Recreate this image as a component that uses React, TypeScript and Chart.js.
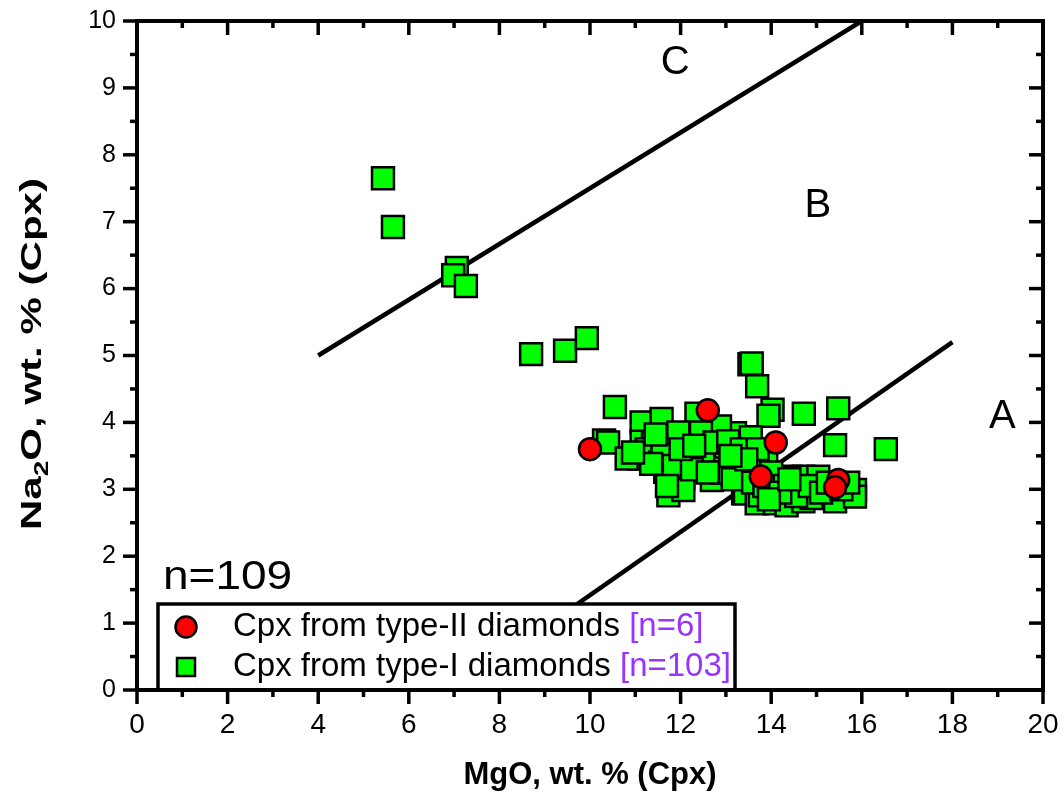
import React, { useEffect, useRef } from 'react';
import { Chart, registerables } from 'chart.js';

Chart.register(...registerables);

// ---- Data ----
const MGO_TYPE2 = [10.0, 12.6, 14.1, 13.77, 15.48, 15.41];
const NA2O_TYPE2 = [3.6, 4.18, 3.7, 3.19, 3.14, 3.03];

const MGO_TYPE1 = [
  5.43, 5.65, 7.06, 6.98, 7.26, 8.7, 9.45, 9.93, 13.52, 13.57,
  13.69, 14.03, 13.94, 14.72, 15.48, 15.41, 16.53, 10.55, 10.31, 10.4,
  11.14, 11.58, 11.14, 11.77, 11.07, 11.47, 10.81, 11.73, 11.39, 11.66,
  12.35, 12.83, 13.2, 11.8, 12.13, 12.61, 12.87, 13.09, 12.69, 12.06,
  12.06, 13.38, 11.77, 12.38, 13.55, 13.0, 13.24, 13.89, 13.53, 13.42,
  13.68, 13.75, 14.16, 14.08, 14.34, 14.45, 14.71, 15.04, 14.67, 14.71,
  14.89, 15.41, 15.85, 15.85, 12.87, 11.25, 11.55, 11.9, 12.2, 12.45,
  12.5, 12.75, 13.05, 13.35, 13.7, 11.6, 11.35, 10.95, 11.85, 12.25,
  12.9, 13.15, 13.6, 13.85, 14.0, 14.3, 14.55, 14.85, 15.1, 15.55,
  15.25, 14.2, 13.95, 12.6, 11.95, 12.0, 13.45, 12.3, 13.1, 11.45,
  15.7, 14.4, 11.7,
];
const NA2O_TYPE1 = [
  7.65, 6.92, 6.31, 6.2, 6.04, 5.02, 5.07, 5.26, 4.87, 4.88,
  4.54, 4.19, 4.1, 4.13, 4.21, 3.66, 3.6, 4.23, 3.73, 3.7,
  4.0, 4.05, 3.71, 3.75, 3.46, 3.5, 3.46, 2.91, 3.69, 3.26,
  4.13, 3.91, 3.84, 3.76, 3.79, 3.56, 3.44, 3.34, 3.14, 3.16,
  2.99, 2.94, 3.49, 3.74, 3.78, 3.64, 3.51, 3.44, 3.31, 2.94,
  2.79, 2.91, 3.09, 2.79, 2.76, 3.19, 3.19, 3.19, 3.01, 2.82,
  2.87, 2.82, 2.99, 2.89, 3.94, 3.6, 3.4, 3.62, 3.55, 3.85,
  3.4, 3.7, 3.72, 3.6, 3.6, 3.55, 3.38, 3.55, 3.35, 3.3,
  3.25, 3.15, 3.1, 3.05, 3.25, 3.05, 2.9, 3.05, 2.95, 3.0,
  3.1, 2.95, 2.85, 3.25, 3.85, 3.6, 3.45, 3.65, 3.5, 3.82,
  3.1, 3.15, 3.05,
];

// Field boundary lines
const LINE_BC_X = [4, 16];
const LINE_BC_Y = [5, 10];
const LINE_AB_X = [7, 18];
const LINE_AB_Y = [0, 5.2];

// Field labels
const FIELD_LABELS = ['A', 'B', 'C'];
const FIELD_X = [19.1, 15.03, 11.88];
const FIELD_Y = [4.08, 7.23, 9.37];

// Legend / annotations
const LEGEND_LABELS = ['Cpx from type-II diamonds', 'Cpx from type-I diamonds'];
const LEGEND_COUNTS = ['[n=6]', '[n=103]'];
const TOTAL_LABEL = 'n=109';
const X_TITLE = 'MgO, wt. % (Cpx)';
const Y_TITLE_PARTS = ['Na', '2', 'O, wt. % (Cpx)'];

const X_MIN = 0, X_MAX = 20, X_MAJOR = 2, X_MINOR = 1;
const Y_MIN = 0, Y_MAX = 10, Y_MAJOR = 1, Y_MINOR = 0.5;

const RED = '#ff0000';
const GREEN = '#00ff00';
const PURPLE = '#9933ff';
const SANS = "'Liberation Sans', Arial, sans-serif";

const MAJOR_LEN = 14;
const MINOR_LEN = 7;

const decorPlugin = {
  id: 'decor',
  afterDraw(chart: any) {
    const ctx: CanvasRenderingContext2D = chart.ctx;
    const { left, right, top, bottom } = chart.chartArea;
    const xs = chart.scales.x;
    const ys = chart.scales.y;
    ctx.save();
    ctx.strokeStyle = '#000';
    ctx.lineCap = 'butt';
    ctx.lineWidth = 3.5;

    const seg = (x1: number, y1: number, x2: number, y2: number) => {
      ctx.beginPath();
      ctx.moveTo(x1, y1);
      ctx.lineTo(x2, y2);
      ctx.stroke();
    };

    // x ticks: outward at bottom, inward at top
    for (let v = X_MIN; v <= X_MAX + 1e-9; v += X_MINOR) {
      const px = xs.getPixelForValue(v);
      const major = Math.abs(v / X_MAJOR - Math.round(v / X_MAJOR)) < 1e-6;
      const len = major ? MAJOR_LEN : MINOR_LEN;
      seg(px, bottom, px, bottom + len);
      seg(px, top, px, top + len);
    }
    // y ticks: outward at left, inward at right
    for (let v = Y_MIN; v <= Y_MAX + 1e-9; v += Y_MINOR) {
      const py = ys.getPixelForValue(v);
      const major = Math.abs(v / Y_MAJOR - Math.round(v / Y_MAJOR)) < 1e-6;
      const len = major ? MAJOR_LEN : MINOR_LEN;
      seg(left, py, left - len, py);
      seg(right, py, right - len, py);
    }

    // field labels
    ctx.fillStyle = '#000';
    ctx.font = `40px ${SANS}`;
    ctx.textAlign = 'center';
    ctx.textBaseline = 'middle';
    FIELD_LABELS.forEach((t, i) => {
      ctx.fillText(t, xs.getPixelForValue(FIELD_X[i]), ys.getPixelForValue(FIELD_Y[i]));
    });

    // n=109
    ctx.save();
    ctx.translate(left + 26, 578);
    ctx.scale(1.15, 1);
    ctx.textAlign = 'left';
    ctx.font = `40px ${SANS}`;
    ctx.fillText(TOTAL_LABEL, 0, 0);
    ctx.restore();

    // legend
    const lx = left + 21, ly = 604, lw = 577, lh = bottom - 604;
    ctx.fillStyle = '#fff';
    ctx.fillRect(lx, ly, lw, lh);
    ctx.lineWidth = 3.5;
    ctx.strokeStyle = '#000';
    ctx.strokeRect(lx, ly, lw, lh);
    const rows = [627, 667];
    ctx.beginPath();
    ctx.arc(lx + 28, rows[0], 10.5, 0, Math.PI * 2);
    ctx.fillStyle = RED;
    ctx.fill();
    ctx.lineWidth = 2.5;
    ctx.stroke();
    ctx.fillStyle = GREEN;
    ctx.fillRect(lx + 19, rows[1] - 9, 18, 18);
    ctx.strokeRect(lx + 19, rows[1] - 9, 18, 18);
    ctx.font = `33px ${SANS}`;
    ctx.textBaseline = 'middle';
    ctx.textAlign = 'left';
    LEGEND_LABELS.forEach((t, i) => {
      ctx.fillStyle = '#000';
      ctx.fillText(t, lx + 75, rows[i]);
      const w = ctx.measureText(t + ' ').width;
      ctx.fillStyle = PURPLE;
      ctx.fillText(LEGEND_COUNTS[i], lx + 75 + w, rows[i]);
    });

    // frame (on top)
    ctx.lineWidth = 4;
    ctx.strokeStyle = '#000';
    ctx.strokeRect(left, top, right - left, bottom - top);

    // x title
    ctx.fillStyle = '#000';
    ctx.font = `bold 31px ${SANS}`;
    ctx.textAlign = 'center';
    ctx.textBaseline = 'middle';
    ctx.fillText(X_TITLE, (left + right) / 2, 775);

    // y title with subscript
    ctx.save();
    ctx.translate(30, 354);
    ctx.rotate(-Math.PI / 2);
    const big = `bold 30px ${SANS}`;
    const small = `bold 20px ${SANS}`;
    ctx.font = big;
    const w0 = ctx.measureText(Y_TITLE_PARTS[0]).width;
    const w2 = ctx.measureText(Y_TITLE_PARTS[2]).width;
    ctx.font = small;
    const w1 = ctx.measureText(Y_TITLE_PARTS[1]).width;
    const total = w0 + w1 + w2;
    const stretch = 352 / total;
    ctx.scale(stretch, 1);
    ctx.textAlign = 'left';
    ctx.textBaseline = 'alphabetic';
    let x = -total / 2;
    ctx.font = big;
    ctx.fillText(Y_TITLE_PARTS[0], x, 11);
    x += w0;
    ctx.font = small;
    ctx.fillText(Y_TITLE_PARTS[1], x, 18);
    x += w1;
    ctx.font = big;
    ctx.fillText(Y_TITLE_PARTS[2], x, 11);
    ctx.restore();

    ctx.restore();
  },
};

export default function App() {
  const canvasRef = useRef<HTMLCanvasElement | null>(null);

  useEffect(() => {
    const canvas = canvasRef.current;
    if (!canvas) return;
    const chart = new Chart(canvas, {
      type: 'scatter',
      data: {
        datasets: [
          {
            label: LEGEND_LABELS[0],
            data: MGO_TYPE2.map((x, i) => ({ x, y: NA2O_TYPE2[i] })),
            pointStyle: 'circle',
            pointRadius: 11,
            backgroundColor: RED,
            borderColor: '#000',
            borderWidth: 2.5,
          },
          {
            label: LEGEND_LABELS[1],
            data: MGO_TYPE1.map((x, i) => ({ x, y: NA2O_TYPE1[i] })),
            pointStyle: 'rect',
            pointRadius: 15.5,
            backgroundColor: GREEN,
            borderColor: '#000',
            borderWidth: 2.5,
          },
          {
            label: 'A/B',
            data: LINE_AB_X.map((x, i) => ({ x, y: LINE_AB_Y[i] })),
            showLine: true,
            pointRadius: 0,
            borderColor: '#000',
            borderWidth: 4.5,
          },
          {
            label: 'B/C',
            data: LINE_BC_X.map((x, i) => ({ x, y: LINE_BC_Y[i] })),
            showLine: true,
            pointRadius: 0,
            borderColor: '#000',
            borderWidth: 4.5,
          },
        ],
      },
      options: {
        animation: false,
        responsive: false,
        events: [],
        layout: { padding: { top: 21, right: 21, left: 0, bottom: 0 } },
        plugins: { legend: { display: false }, tooltip: { enabled: false } },
        scales: {
          x: {
            type: 'linear',
            min: X_MIN,
            max: X_MAX,
            grid: { display: false },
            border: { display: false },
            ticks: {
              stepSize: X_MAJOR,
              color: '#000',
              padding: 10,
              maxRotation: 0,
              font: { family: "'Liberation Sans Narrow', 'Liberation Sans', Arial", size: 28 },
            },
            afterFit: (s: any) => {
              s.height = 105;
              s.paddingLeft = 0;
              s.paddingRight = 0;
            },
          },
          y: {
            type: 'linear',
            min: Y_MIN,
            max: Y_MAX,
            grid: { display: false },
            border: { display: false },
            ticks: {
              stepSize: Y_MAJOR,
              color: '#000',
              padding: 13,
              font: { family: "'Liberation Sans', Arial", size: 25 },
            },
            afterFit: (s: any) => {
              s.width = 137;
              s.paddingTop = 0;
              s.paddingBottom = 0;
            },
          },
        },
      },
      plugins: [decorPlugin],
    });
    return () => chart.destroy();
  }, []);

  return (
    <div style={{ position: 'absolute', left: 0, top: 0, width: 1064, height: 795, background: '#fff' }}>
      <canvas ref={canvasRef} width={1064} height={795} />
    </div>
  );
}
